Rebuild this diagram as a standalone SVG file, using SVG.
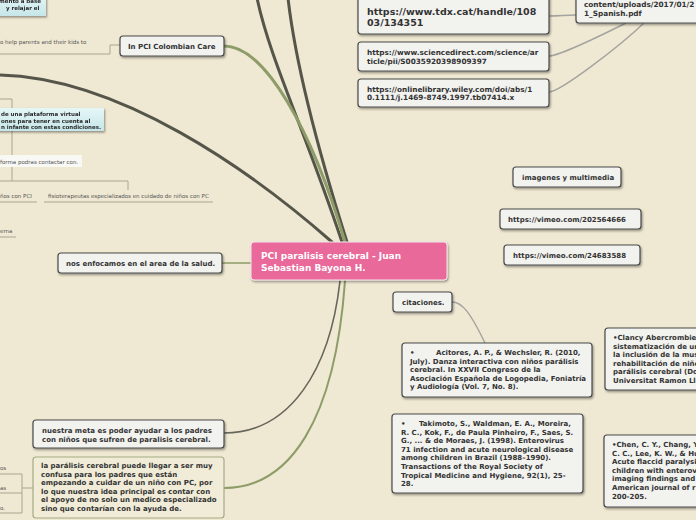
<svg xmlns="http://www.w3.org/2000/svg" width="696" height="520" viewBox="0 0 696 520">
<defs>
<filter id="sh" x="-10%" y="-20%" width="130%" height="160%"><feDropShadow dx="1" dy="1.5" stdDeviation="0.8" flood-color="#000" flood-opacity="0.4"/></filter>
<linearGradient id="cy" x1="0" y1="0" x2="0" y2="1"><stop offset="0" stop-color="#e6f6f7"/><stop offset="1" stop-color="#c6e6e9"/></linearGradient>
</defs>
<style>
.box{fill:#f2f2ef;stroke:#4a4a4a;stroke-width:1.2}
.t{font-family:"DejaVu Sans","Liberation Sans",sans-serif;font-weight:bold;font-size:7px;fill:#333}
.s{font-family:"DejaVu Sans","Liberation Sans",sans-serif;font-size:5.5px;fill:#555}
.sb{font-family:"DejaVu Sans","Liberation Sans",sans-serif;font-weight:bold;font-size:5.5px;fill:#2a2a2a}
.dk{fill:none;stroke:#55554a;stroke-width:3;stroke-linecap:round}
.gr{fill:none;stroke:#8d9c68;stroke-width:3;stroke-linecap:round}
.gy{fill:none;stroke:#a3a39f;stroke-width:1.4}
.tan{fill:none;stroke:#aca58f;stroke-width:1}
</style>
<rect width="696" height="520" fill="#efe8d2"/>
<g id="connectors">
<path class="dk" d="M0,75 C120,78 250,170 332,242"/>
<path class="dk" d="M257,-2 C270,60 305,130 342,242"/>
<path class="dk" d="M288,-2 C295,60 318,150 347,242"/>
<path class="gr" d="M224,46 C265,46 312,130 345,242"/>
<path class="gr" style="stroke-width:1.6" d="M222,263 L251,263"/>
<path class="dk" style="stroke-width:1.6;stroke:#66665a" d="M340,281 C330,370 290,433 224,433"/>
<path class="gr" style="stroke-width:2" d="M345,281 C335,420 290,488 224,488"/>
<path class="gy" d="M549,16 C560,16 565,15 576,15"/>
<path class="gy" d="M549,56 C560,56 600,36 626,23"/>
<path class="gy" d="M549,92 C560,92 620,46 644,23"/>
<path class="gy" d="M452,302 C462,302 470,312 485,343"/>
<path class="tan" d="M0,54 H110 V45 H120"/>
<path class="tan" d="M0,99 H12 V181"/>
<path class="tan" d="M0,181 H128 V190"/>
<path class="tan" d="M0,202 H37 M44,202 H213"/>
<path class="tan" d="M0,237 H16"/>
<path class="tan" d="M0,474 H22 M0,493 H22 M0,513 H22 M22,474 V513 M22,488 H33"/>
</g>
<g id="n-cyan1" filter="url(#sh)">
<rect x="-5" y="-5" width="51" height="21" fill="url(#cy)"/>
<text class="sb" x="-1" y="3">mento a base</text>
<text class="sb" x="6" y="9.5">y relajar el</text>
</g>
<g id="n-help"><text class="s" x="0" y="44">o help parents and their kids to</text></g>
<g id="n-colombian"><rect class="box" filter="url(#sh)" x="120" y="36" width="104" height="20" rx="3"/><text class="t" x="128" y="48.5">In PCI Colombian Care</text></g>
<g id="n-cyan2" filter="url(#sh)">
<rect x="-5" y="108" width="109" height="23" fill="url(#cy)"/>
<text class="sb" x="1" y="116">de una plataforma virtual</text>
<text class="sb" x="1" y="122.5">ones para tener en cuenta al</text>
<text class="sb" x="1" y="129">n infante con estas condiciones.</text>
</g>
<g id="n-forma"><rect x="-2" y="155" width="84" height="12" fill="#f8f8f5"/><text class="s" x="0" y="164">forma podras contactar con.</text></g>
<g id="n-ninos"><text class="s" x="0" y="198">ños con PCI</text></g>
<g id="n-fisio"><text class="s" x="48" y="198">fisioterapeutas especializados en cuidado de niños con PC</text></g>
<g id="n-erna"><text class="s" x="0" y="233">erna</text></g>
<g id="n-enfocamos"><rect class="box" filter="url(#sh)" x="58" y="253" width="164" height="20" rx="3"/><text class="t" x="66" y="266">nos enfocamos en el area de la salud.</text></g>
<g id="n-center"><rect filter="url(#sh)" x="251" y="242" width="196" height="38" rx="3" fill="#e8699a" stroke="#f6e8ee" stroke-width="1"/>
<text class="t" style="font-size:9px;fill:#fff" x="261" y="259">PCI paralisis cerebral - Juan</text>
<text class="t" style="font-size:9px;fill:#fff" x="261" y="271">Sebastian Bayona H.</text></g>
<g id="n-meta"><rect class="box" filter="url(#sh)" x="33" y="420" width="191" height="28" rx="3"/>
<text class="t" x="42" y="433">nuestra meta es poder ayudar a los padres</text>
<text class="t" x="42" y="442">con niños que sufren de paralisis cerebral.</text></g>
<g id="n-paralisis"><rect x="33" y="457" width="191" height="61" rx="3" fill="#f0ecd8" stroke="#a4ab82" stroke-width="1.2"/>
<text class="t" x="41" y="468">la parálisis cerebral puede llegar a ser muy</text>
<text class="t" x="41" y="476.5">confusa para los padres que están</text>
<text class="t" x="41" y="485">empezando a cuidar de un niño con PC, por</text>
<text class="t" x="41" y="493.5">lo que nuestra idea principal es contar con</text>
<text class="t" x="41" y="502">el apoyo de no solo un medico especializado</text>
<text class="t" x="41" y="510.5">sino que contarían con la ayuda de.</text></g>
<g id="n-os"><text class="s" x="0" y="470">os</text></g>
<g id="n-as"><text class="s" x="0" y="490">as</text></g>
<g id="n-o"><text class="s" x="0" y="510">o.</text></g>
<g id="n-tdx"><rect class="box" filter="url(#sh)" x="358" y="-4" width="191" height="38" rx="3"/>
<text class="t" style="font-size:9.5px" x="367" y="15">https://www.tdx.cat/handle/108</text>
<text class="t" style="font-size:9.5px" x="367" y="26">03/134351</text></g>
<g id="n-sciencedirect"><rect class="box" filter="url(#sh)" x="358" y="42" width="191" height="29" rx="3"/>
<text class="t" style="font-size:7.3px" x="367" y="55">https://www.sciencedirect.com/science/ar</text>
<text class="t" style="font-size:7.3px" x="367" y="63.5">ticle/pii/S0035920398909397</text></g>
<g id="n-wiley"><rect class="box" filter="url(#sh)" x="358" y="79" width="191" height="28" rx="3"/>
<text class="t" style="font-size:7.3px" x="367" y="91.5">https://onlinelibrary.wiley.com/doi/abs/1</text>
<text class="t" style="font-size:7.3px" x="367" y="100">0.1111/j.1469-8749.1997.tb07414.x</text></g>
<g id="n-pdf"><rect class="box" filter="url(#sh)" x="576" y="-6" width="130" height="29" rx="3"/>
<text class="t" style="font-size:7.3px" x="584" y="7">content/uploads/2017/01/2</text>
<text class="t" style="font-size:7.3px" x="584" y="16">1_Spanish.pdf</text></g>
<g id="n-imagenes"><rect class="box" filter="url(#sh)" x="513" y="167" width="108" height="20" rx="3"/><text class="t" x="522" y="179.5">imagenes y multimedia</text></g>
<g id="n-vimeo1"><rect class="box" filter="url(#sh)" x="500" y="209" width="141" height="20" rx="3"/><text class="t" x="508" y="222">https://vimeo.com/202564666</text></g>
<g id="n-vimeo2"><rect class="box" filter="url(#sh)" x="504" y="245" width="136" height="20" rx="3"/><text class="t" x="513" y="258">https://vimeo.com/24683588</text></g>
<g id="n-citaciones"><rect class="box" filter="url(#sh)" x="393" y="292" width="59" height="20" rx="3"/><text class="t" x="402" y="305">citaciones.</text></g>
<g id="n-acitores"><rect class="box" filter="url(#sh)" x="402" y="343" width="190" height="54" rx="3"/>
<text class="t" x="410" y="355">•</text><text class="t" x="436" y="355">Acitores, A. P., &amp; Wechsler, R. (2010,</text>
<text class="t" x="410" y="363.6">July). Danza interactiva con niños parálisis</text>
<text class="t" x="410" y="372.2">cerebral. In XXVII Congreso de la</text>
<text class="t" x="410" y="380.8">Asociación Española de Logopedia, Foniatría</text>
<text class="t" x="410" y="389.4">y Audiología (Vol. 7, No. 8).</text></g>
<g id="n-takimoto"><rect class="box" filter="url(#sh)" x="392" y="414" width="191" height="79" rx="3"/>
<text class="t" x="401" y="426">•</text><text class="t" x="419" y="426">Takimoto, S., Waldman, E. A., Moreira,</text>
<text class="t" x="401" y="434.6">R. C., Kok, F., de Paula Pinheiro, F., Saes, S.</text>
<text class="t" x="401" y="443.2">G., ... &amp; de Moraes, J. (1998). Enterovirus</text>
<text class="t" x="401" y="451.8">71 infection and acute neurological disease</text>
<text class="t" x="401" y="460.4">among children in Brazil (1988–1990).</text>
<text class="t" x="401" y="469">Transactions of the Royal Society of</text>
<text class="t" x="401" y="477.6">Tropical Medicine and Hygiene, 92(1), 25-</text>
<text class="t" x="401" y="486.2">28.</text></g>
<g id="n-clancy"><rect class="box" filter="url(#sh)" x="605" y="328" width="100" height="62" rx="3"/>
<text class="t" x="613" y="340">•Clancy Abercrombie</text>
<text class="t" x="613" y="348.6">sistematización de ur</text>
<text class="t" x="613" y="357.2">la inclusión de la mus</text>
<text class="t" x="613" y="365.8">rehabilitación de niñe</text>
<text class="t" x="613" y="374.4">parálisis cerebral (Do</text>
<text class="t" x="613" y="383">Universitat Ramon Lli</text></g>
<g id="n-chen"><rect class="box" filter="url(#sh)" x="604" y="435" width="100" height="72" rx="3"/>
<text class="t" x="612" y="447">•Chen, C. Y., Chang, Y</text>
<text class="t" x="612" y="455.6">C. C., Lee, K. W., &amp; Hu</text>
<text class="t" x="612" y="464.2">Acute flaccid paralysi</text>
<text class="t" x="612" y="472.8">children with enterov</text>
<text class="t" x="612" y="481.4">imaging findings and</text>
<text class="t" x="612" y="490">American journal of r</text>
<text class="t" x="612" y="498.6">200-205.</text></g>
</svg>
